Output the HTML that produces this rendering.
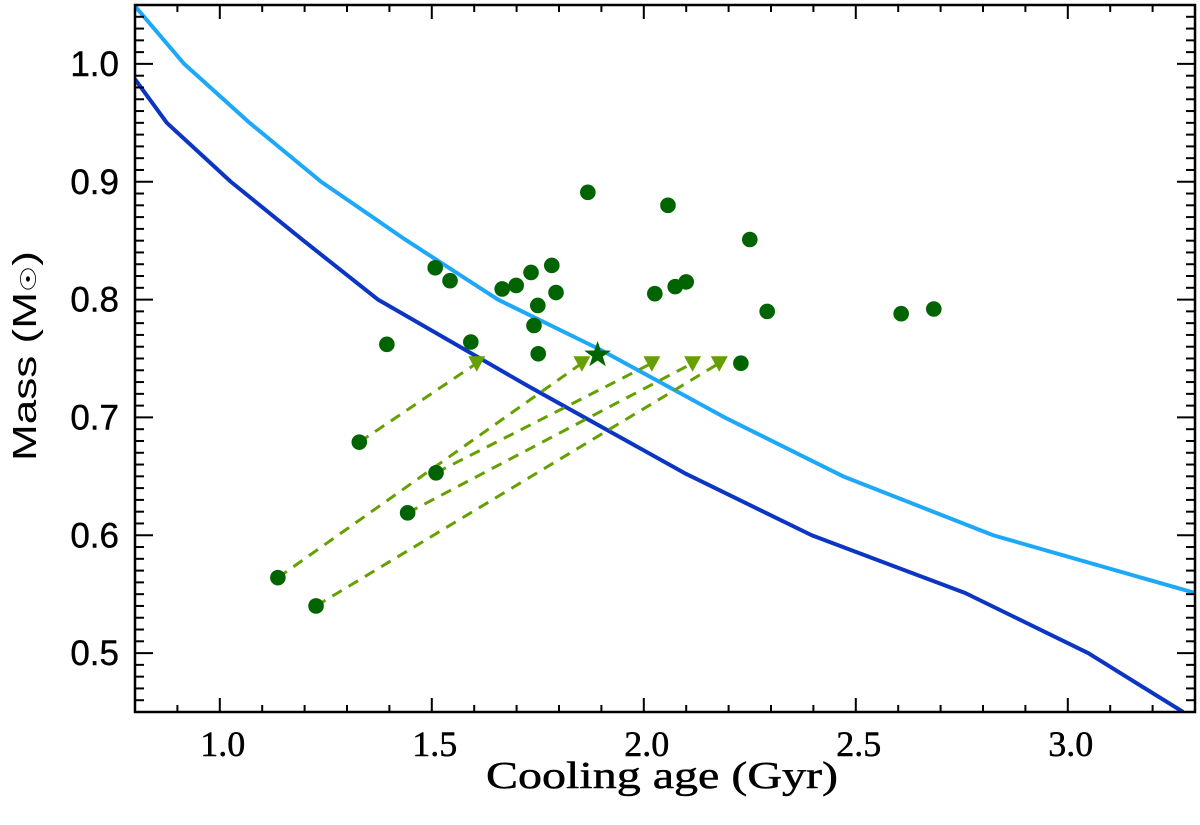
<!DOCTYPE html>
<html><head><meta charset="utf-8">
<style>
html,body{margin:0;padding:0;background:#fff;}
svg{display:block;font-family:"Liberation Serif","DejaVu Serif",serif;}
</style></head>
<body>
<svg id="chart" width="1200" height="825" viewBox="0 0 1200 825" xmlns="http://www.w3.org/2000/svg">
<g id="lines"></g>
<g id="dashes"></g>
<g id="marks"></g>
<g id="axes"></g>
<text x="662" y="788" font-size="38" text-anchor="middle" textLength="352" lengthAdjust="spacingAndGlyphs" stroke="#000" stroke-width="0.5">Cooling age (Gyr)</text>
<text x="0" y="0" font-size="33" text-anchor="middle" font-family="Liberation Sans, sans-serif" textLength="210" lengthAdjust="spacingAndGlyphs" transform="translate(36 356) rotate(-90)">Mass (M<tspan font-size="22">☉</tspan>)</text>
</svg>
<script>
// data
const lightAge  = [0.80, 0.916, 1.067, 1.239, 1.437, 1.656, 1.90, 2.196, 2.47, 2.824, 3.30];
const lightMass = [1.049, 1.0, 0.951, 0.900, 0.851, 0.800, 0.757, 0.699, 0.650, 0.600, 0.551];
const darkAge   = [0.80, 0.875, 1.026, 1.194, 1.373, 1.73, 2.10, 2.396, 2.758, 3.048, 3.272];
const darkMass  = [0.987, 0.950, 0.900, 0.851, 0.800, 0.726, 0.652, 0.600, 0.551, 0.500, 0.450];
const circAge  = [1.329,1.137,1.510,1.443,1.227,1.394,1.592,1.751,2.229,1.508,1.543,1.666,1.699,1.734,1.783,1.793,1.750,1.741,1.868,2.026,2.057,2.074,2.100,2.250,2.291,2.607,2.684];
const circMass = [0.679,0.564,0.653,0.619,0.540,0.762,0.764,0.754,0.746,0.827,0.816,0.809,0.812,0.823,0.829,0.806,0.795,0.778,0.891,0.805,0.880,0.811,0.815,0.851,0.790,0.788,0.792];
const triAge  = [1.606, 1.854, 2.019, 2.115, 2.178];
const triMass = [0.746, 0.746, 0.746, 0.746, 0.746];
const linkFrom = [0, 1, 2, 3, 4];
const starAge = [1.891];
const starMass = [0.753];
const xTicks = ["1.0","1.5","2.0","2.5","3.0"];
const yTicks = ["0.5","0.6","0.7","0.8","0.9","1.0"];

const L=135,R=1195,T=5,B=712, X0=0.8,X1=3.3,Y0=0.45,Y1=1.05;
const sx=a=>L+(a-X0)/(X1-X0)*(R-L);
const sy=m=>B-(m-Y0)/(Y1-Y0)*(B-T);
const NS="http://www.w3.org/2000/svg";
function mk(tag,attrs,parent){const e=document.createElementNS(NS,tag);for(const k in attrs)e.setAttribute(k,attrs[k]);parent.appendChild(e);return e;}

const gl=document.getElementById('lines');
function curve(ax,ms,color,name){
  const p=mk('polyline',{points:ax.map((a,i)=>sx(a)+','+sy(ms[i])).join(' '),fill:'none',stroke:color,'stroke-width':4,'stroke-linejoin':'round'},gl);
  
  
}
const clip=mk('clipPath',{id:'pc'},document.getElementById('chart'));
mk('rect',{x:L,y:T,width:R-L,height:B-T},clip);
gl.setAttribute('clip-path','url(#pc)');
curve(lightAge,lightMass,'#1ea8fa','light-blue-curve');
curve(darkAge,darkMass,'#0b35c2','dark-blue-curve');

const gd=document.getElementById('dashes');
linkFrom.forEach((ci,i)=>{
  const l=mk('line',{x1:sx(circAge[ci]),y1:sy(circMass[ci]),x2:sx(triAge[i]),y2:sy(triMass[i]),stroke:'#66a000','stroke-width':3,'stroke-dasharray':'11 8'},gd);
  
  
});

const gm=document.getElementById('marks');
circAge.forEach((a,i)=>{
  const c=mk('circle',{cx:sx(a),cy:sy(circMass[i]),r:7.8,fill:'#006400'},gm);
  
  
});
triAge.forEach((a,i)=>{
  const x=sx(a),y=sy(triMass[i]);
  const t=mk('polygon',{points:`${x-8.5},${y-7} ${x+8.5},${y-7} ${x},${y+8.5}`,fill:'#66a000'},gm);
  
  
});
starAge.forEach((a,i)=>{
  const x=sx(a),y=sy(starMass[i]);let pts=[];
  for(let k=0;k<10;k++){const r=k%2?5.5:14;const an=-Math.PI/2+k*Math.PI/5;pts.push((x+r*Math.cos(an))+','+(y+r*Math.sin(an)));}
  const s=mk('polygon',{points:pts.join(' '),fill:'#006400'},gm);
  
  
});

const ga=document.getElementById('axes');
mk('rect',{x:L,y:T,width:R-L,height:B-T,fill:'none',stroke:'#000','stroke-width':2.5},ga);
for(let v=8;v<=33;v++){
  const a=v/10,x=sx(a),maj=(v%5===0),len=maj?14:7;
  mk('line',{x1:x,y1:B,x2:x,y2:B-len,stroke:'#000','stroke-width':2},ga);
  mk('line',{x1:x,y1:T,x2:x,y2:T+len,stroke:'#000','stroke-width':2},ga);
}
xTicks.forEach(s=>{
  const t=mk('text',{x:sx(parseFloat(s))+3,y:756,'font-size':36,'text-anchor':'middle',stroke:'#000','stroke-width':0.5},ga);
  t.textContent=s;
  
  
});
for(let v=45;v<=105;v++){
  const y=sy(v/100),maj=(v%10===0),len=maj?18:9;
  mk('line',{x1:L,y1:y,x2:L+len,y2:y,stroke:'#000','stroke-width':2},ga);
  mk('line',{x1:R,y1:y,x2:R-len,y2:y,stroke:'#000','stroke-width':2},ga);
}
yTicks.forEach(s=>{
  const t=mk('text',{x:119,y:sy(parseFloat(s))+12,'font-size':35,'text-anchor':'end','font-family':'Liberation Sans, sans-serif',stroke:'#000','stroke-width':0.4},ga);
  t.textContent=s;
  
  
});
</script>
</body></html>
